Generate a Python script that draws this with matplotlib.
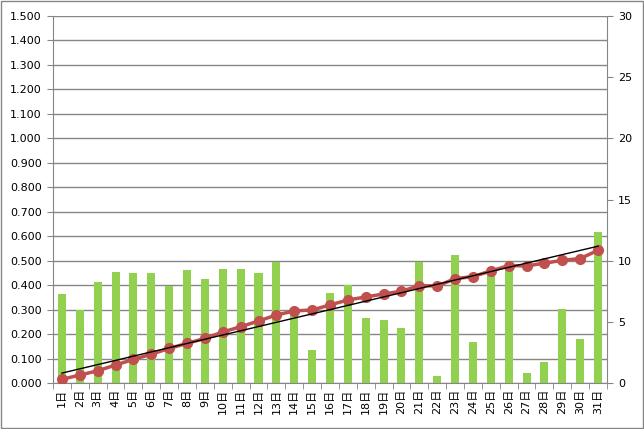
import matplotlib
matplotlib.use("Agg")
import matplotlib.pyplot as plt
import numpy as np
from matplotlib.patches import Rectangle

days = list(range(1, 32))
day_labels = [f"{d}日" for d in days]
bar_values = [0.364, 0.298, 0.413, 0.454, 0.450, 0.450, 0.396, 0.462, 0.425, 0.466,
              0.466, 0.450, 0.494, 0.290, 0.135, 0.368, 0.400, 0.266, 0.257, 0.225,
              0.494, 0.029, 0.523, 0.168, 0.455, 0.475, 0.041, 0.086, 0.302, 0.180,
              0.617]
line_values = [0.30, 0.65, 1.00, 1.47, 1.93, 2.35, 2.83, 3.24, 3.65, 4.17,
               4.60, 5.07, 5.56, 5.89, 5.97, 6.38, 6.79, 7.03, 7.28, 7.50,
               7.96, 7.93, 8.53, 8.70, 9.16, 9.60, 9.57, 9.79, 10.03, 10.17,
               10.85]
left_ticks = [i / 10 for i in range(16)]
right_ticks = [0, 5, 10, 15, 20, 25, 30]

fig = plt.figure(figsize=(6.44, 4.29), dpi=100)
fig.patches.append(Rectangle((0.001, 0.002), 0.997, 0.995, transform=fig.transFigure,
                             fill=False, edgecolor="#868686", linewidth=1))
ax = fig.add_axes([0.0823, 0.1072, 0.8602, 0.8555])
x = np.array(days)
ax.bar(x, bar_values, width=0.45, color="#92D050", zorder=2)
ax.set_xlim(0.5, 31.5)
ax.set_ylim(0, 1.5)
ax.set_yticks(left_ticks)
ax.set_yticklabels([f"{v:.3f}" for v in left_ticks], fontsize=8)
ax.yaxis.grid(True, color="#868686", linewidth=1)
ax.set_axisbelow(True)
ax.set_xticks(x)
ax.set_xticklabels(day_labels, rotation=90, fontsize=8,
                   family=["DejaVu Sans", "Noto Sans CJK JP"])
ax.set_xticks(np.arange(0.5, 32, 1), minor=True)
ax.tick_params(axis="x", which="major", length=0, pad=4)
ax.tick_params(axis="x", which="minor", length=4, color="#868686", direction="out")
ax.tick_params(axis="y", length=4, color="#868686", direction="out", pad=4)
for s in ["top", "right"]:
    ax.spines[s].set_visible(False)
for s in ["left", "bottom"]:
    ax.spines[s].set_color("#868686")

ax2 = ax.twinx()
ax2.set_ylim(0, 30)
ax2.set_yticks(right_ticks)
ax2.set_yticklabels([str(v) for v in right_ticks], fontsize=8)
ax2.tick_params(axis="y", length=4, color="#868686", direction="out", pad=4)
for s in ["top", "left", "bottom"]:
    ax2.spines[s].set_visible(False)
ax2.spines["right"].set_color("#868686")
ax2.plot(x, line_values, color="#C0504D", linewidth=2.5, marker="o", markersize=7, zorder=3)
coef = np.polyfit(x, line_values, 1)
ax2.plot([1, 31], np.polyval(coef, [1, 31]), color="black", linewidth=1, zorder=4)

fig.savefig("out.png", dpi=100)
